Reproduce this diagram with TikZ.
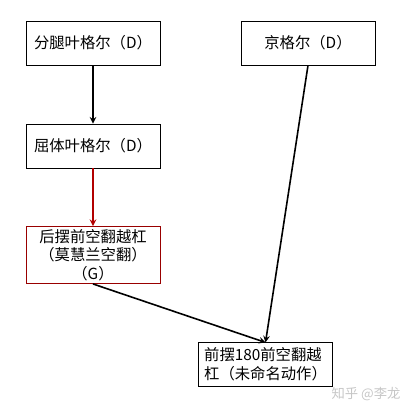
\documentclass[tikz,border=0pt]{standalone}
\usepackage{fontspec}
\setmainfont{Noto Sans CJK SC}
\usetikzlibrary{positioning}

\begin{document}
\begin{tikzpicture}[
  x=0.75pt, y=-0.75pt,
  font=\fontsize{11.5}{14}\selectfont,
  move/.style={draw, line width=0.6pt, minimum width=100.5pt, minimum height=33pt, inner sep=2pt},
  link/.style={->, line width=1.2pt, >=stealth}
]

% Frame
\useasboundingbox (0,0) rectangle (411,414);

% Elements
\node[move] (split) at (93,43) {分腿叶格尔（D）};
\node[move] (jing) at (308,43) {京格尔（D）};
\node[move] (pike) at (93,146) {屈体叶格尔（D）};
\node[move, draw=red!60!black, minimum height=42pt, align=center] (moh) at (93,255) {后摆前空翻越杠\\（莫慧兰空翻）\\（G）};
\node[move, minimum width=101pt, minimum height=32.5pt, align=left] (new) at (265.5,364.5) {前摆180前空翻越\\杠（未命名动作）};

% Connectors
\draw[link] (split) -- (pike);
\draw[link, red!70!black] (pike) -- (moh);
\draw[link] (moh.south) -- (new.north);
\draw[link] (jing.south) -- (new.north);

% Watermark
\node[gray!45, font=\fontsize{10}{12}\selectfont] (mark) at (366,394) {知乎 @李龙};

\end{tikzpicture}
\end{document}
